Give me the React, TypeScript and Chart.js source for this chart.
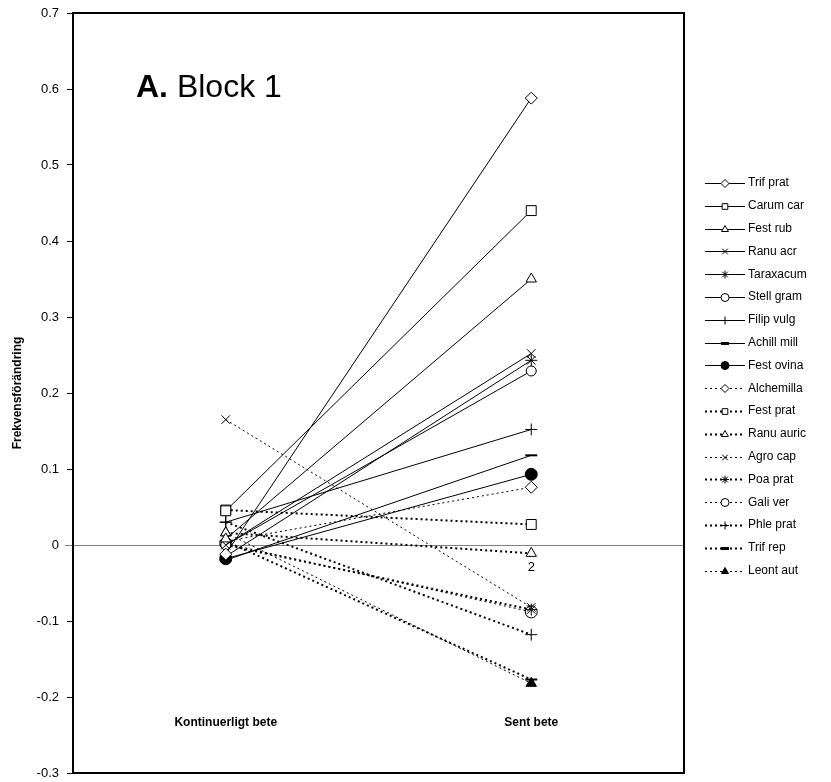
import React, { useEffect, useRef } from 'react';
import { Chart, registerables } from 'chart.js';
import { drawPoint } from 'chart.js/helpers';

Chart.register(...registerables);

const categories = ['Kontinuerligt bete', 'Sent bete'];
const seriesNames = [
  'Trif prat', 'Carum car', 'Fest rub', 'Ranu acr', 'Taraxacum', 'Stell gram',
  'Filip vulg', 'Achill mill', 'Fest ovina', 'Alchemilla', 'Fest prat', 'Ranu auric',
  'Agro cap', 'Poa prat', 'Gali ver', 'Phle prat', 'Trif rep', 'Leont aut',
];
const kontinuerligt = [
  -0.012, 0.045, 0.008, 0.0, -0.015, 0.0, 0.03, -0.02, -0.018,
  0.005, 0.046, 0.016, 0.165, 0.0, 0.002, 0.03, 0.005, 0.016,
];
const sent = [
  0.588, 0.44, 0.35, 0.252, 0.243, 0.229, 0.152, 0.118, 0.093,
  0.076, 0.027, -0.011, -0.082, -0.085, -0.088, -0.118, -0.177, -0.182,
];
const yMin = -0.3;
const yMax = 0.7;
const yStep = 0.1;
const noteText = '2';
const noteSeries = 'Ranu auric';
const titleBold = 'A.';
const titleRest = ' Block 1';
const yTitle = 'Frekvensförändring';

// styles
const markers = [
  'rectRot', 'rect', 'triangle', 'crossRot', 'star', 'circle', 'cross', 'line', 'circle',
  'rectRot', 'rect', 'triangle', 'crossRot', 'star', 'circle', 'cross', 'line', 'triangle',
];
const filled = [
  false, false, false, false, false, false, false, false, true,
  false, false, false, false, false, false, false, true, true,
];
const dashed = [
  false, false, false, false, false, false, false, false, false,
  true, true, true, true, true, true, true, true, true,
];
const thick = [
  false, false, false, false, false, false, false, false, false,
  false, true, true, false, true, false, true, true, false,
];
const radii = [6, 7, 6, 6, 6, 5, 6, 6, 6, 6, 7, 6, 6, 6, 6, 6, 6, 6];

const FONT = '"Liberation Sans", Arial, sans-serif';

const decorPlugin = {
  id: 'decor',
  beforeDatasetsDraw(chart: any) {
    const { ctx, chartArea } = chart;
    const y0 = chart.scales.y.getPixelForValue(0);
    ctx.save();
    ctx.strokeStyle = '#808080';
    ctx.lineWidth = 1;
    ctx.beginPath();
    ctx.moveTo(chartArea.left - 8, Math.round(y0) + 0.5);
    ctx.lineTo(chartArea.right, Math.round(y0) + 0.5);
    ctx.stroke();
    ctx.restore();
  },
  afterDraw(chart: any) {
    const { ctx, chartArea } = chart;
    const xs = chart.scales.x;
    const ys = chart.scales.y;
    ctx.save();
    // plot border
    ctx.strokeStyle = '#000';
    ctx.lineWidth = 2;
    ctx.strokeRect(chartArea.left, chartArea.top, chartArea.right - chartArea.left, chartArea.bottom - chartArea.top);

    // category labels
    ctx.fillStyle = '#000';
    ctx.font = `bold 12px ${FONT}`;
    ctx.textAlign = 'center';
    ctx.textBaseline = 'middle';
    categories.forEach((c, i) => {
      ctx.fillText(c, xs.getPixelForValue(i), chartArea.bottom - 50);
    });

    // note label
    const ni = seriesNames.indexOf(noteSeries);
    ctx.font = `13px ${FONT}`;
    ctx.fillText(noteText, xs.getPixelForValue(1), ys.getPixelForValue(sent[ni]) + 14);

    // y title
    ctx.save();
    ctx.translate(18, (chartArea.top + chartArea.bottom) / 2);
    ctx.rotate(-Math.PI / 2);
    ctx.font = `bold 12px ${FONT}`;
    ctx.fillText(yTitle, 0, 0);
    ctx.restore();

    // panel title
    ctx.textAlign = 'left';
    ctx.textBaseline = 'alphabetic';
    ctx.font = `bold 32px ${FONT}`;
    const tx = 136;
    const ty = 97;
    ctx.fillText(titleBold, tx, ty);
    const w = ctx.measureText(titleBold).width;
    ctx.font = `32px ${FONT}`;
    ctx.fillText(titleRest, tx + w, ty);

    // legend
    const lx0 = 705;
    const lx1 = 745;
    const lm = 725;
    const ly0 = 183;
    const lstep = 22.8;
    chart.data.datasets.forEach((ds: any, i: number) => {
      const y = ly0 + i * lstep;
      ctx.save();
      ctx.strokeStyle = '#000';
      ctx.lineWidth = thick[i] ? 2 : 1;
      ctx.setLineDash(dashed[i] ? [2, 3] : []);
      ctx.beginPath();
      ctx.moveTo(lx0, Math.round(y) + 0.5);
      ctx.lineTo(lx1, Math.round(y) + 0.5);
      ctx.stroke();
      ctx.setLineDash([]);
      ctx.lineWidth = markers[i] === 'line' ? 3 : 1;
      ctx.fillStyle = filled[i] ? '#000' : '#fff';
      drawPoint(ctx, { pointStyle: markers[i], rotation: 0, radius: 4, borderWidth: ctx.lineWidth }, lm, Math.round(y) + 0.5);
      ctx.restore();
      ctx.fillStyle = '#000';
      ctx.font = `12px ${FONT}`;
      ctx.textBaseline = 'middle';
      ctx.fillText(ds.label, lx1 + 3, y);
    });
    ctx.restore();
  },
};

export default function App() {
  const ref = useRef<HTMLCanvasElement | null>(null);
  useEffect(() => {
    if (!ref.current) return;
    const datasets = seriesNames.map((name, i) => ({
      label: name,
      data: [kontinuerligt[i], sent[i]],
      borderColor: '#000',
      borderWidth: thick[i] ? 2 : 1,
      borderDash: dashed[i] ? [2, 3] : [],
      pointStyle: markers[i],
      pointRadius: radii[i],
      pointBorderWidth: markers[i] === 'line' ? 2 : 1,
      pointBorderColor: '#000',
      pointBackgroundColor: filled[i] ? '#000' : '#fff',
      fill: false,
      tension: 0,
    }));
    const chart = new Chart(ref.current, {
      type: 'line',
      data: { labels: categories, datasets },
      options: {
        animation: false,
        responsive: false,
        maintainAspectRatio: false,
        layout: { padding: { left: 0, right: 147, top: 13, bottom: 9 } },
        plugins: { legend: { display: false }, tooltip: { enabled: false }, title: { display: false } },
        scales: {
          x: { type: 'category', display: false, offset: true },
          y: {
            type: 'linear',
            min: yMin,
            max: yMax,
            afterFit: (s: any) => {
              s.width = 73;
              s.paddingTop = 0;
              s.paddingBottom = 0;
            },
            border: { display: false },
            grid: { drawOnChartArea: false, color: '#000', tickLength: 6, tickWidth: 1 },
            ticks: {
              stepSize: yStep,
              color: '#000',
              font: { family: FONT, size: 13 },
              padding: 8,
              callback: (v: any) => {
                const n = Math.round(Number(v) * 10) / 10;
                return n === 0 ? '0' : String(n);
              },
            },
          },
        },
      },
      plugins: [decorPlugin],
    });
    return () => chart.destroy();
  }, []);
  return (
    <div style={{ position: 'fixed', left: 0, top: 0, width: 831, height: 782, background: '#fff' }}>
      <canvas ref={ref} width={831} height={782} style={{ width: 831, height: 782, display: 'block' }} />
    </div>
  );
}
